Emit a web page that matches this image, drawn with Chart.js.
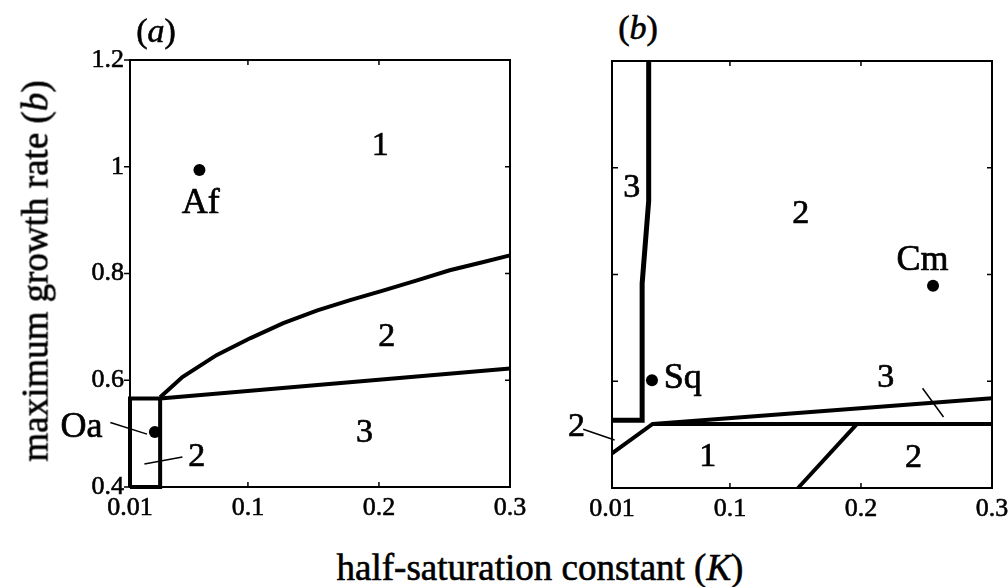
<!DOCTYPE html>
<html>
<head>
<meta charset="utf-8">
<script src="https://cdn.jsdelivr.net/npm/chart.js"></script>
<style>
html, body { margin: 0; padding: 0; background: #fff; }
#wrap { position: relative; width: 1008px; height: 587px; overflow: hidden; font-family: "Liberation Serif", serif; color: #000; }
.box { position: absolute; height: 490px; }
#boxA { left: 30px; top: 50px; width: 500px; }
#boxB { left: 522px; top: 51px; width: 486px; }
.txt { position: absolute; white-space: nowrap; line-height: 1; transform: translate(-50%, -50%); -webkit-text-stroke: 0.6px #000; }
</style>
</head>
<body>
<div id="wrap">
  <div class="box" id="boxA"><canvas id="chartA"></canvas></div>
  <div class="box" id="boxB"><canvas id="chartB"></canvas></div>
  <div class="txt" style="left:35px; top:271px; font-size:37px; transform:translate(-50%,-50%) rotate(-90deg);">maximum growth rate (<i>b</i>)</div>
  <div class="txt" style="left:540px; top:567px; font-size:37px;">half-saturation constant (<i>K</i>)</div>
  <div class="txt" style="left:156px; top:31px; font-size:34px;">(<i>a</i>)</div>
  <div class="txt" style="left:638px; top:28px; font-size:34px;">(<i>b</i>)</div>
</div>
<script>
// axis ticks
const kTicks = [0.01, 0.1, 0.2, 0.3]
const bTicks = [0.4, 0.6, 0.8, 1, 1.2]

// panel (a) boundaries
const aCurveK = [0.033, 0.05, 0.076, 0.102, 0.127, 0.153, 0.178, 0.203, 0.229, 0.254, 0.279, 0.3]
const aCurveB = [0.568, 0.606, 0.647, 0.679, 0.707, 0.731, 0.750, 0.768, 0.787, 0.806, 0.821, 0.834]
const aLineK = [0.033, 0.3]
const aLineB = [0.566, 0.622]
const aBoxK = [0.01, 0.01, 0.033, 0.033, 0.01]
const aBoxB = [0.4, 0.566, 0.566, 0.4, 0.4]
// panel (a) species
const aSpK = [0.063, 0.029]
const aSpB = [0.994, 0.503]
// panel (a) leader lines
const aLeadOaK = [-0.005, 0.023]
const aLeadOaB = [0.521, 0.499]
const aLead2K = [0.021, 0.05]
const aLead2B = [0.443, 0.456]
// panel (a) text
const aText = ['1', '2', '3', '2', 'Af', 'Oa']
const aTextK = [0.201, 0.206, 0.189, 0.061, 0.064, -0.027]
const aTextB = [1.039, 0.680, 0.501, 0.456, 0.931, 0.512]

// panel (b) boundaries
const bVertK = [0.038, 0.038, 0.033, 0.033, 0.01]
const bVertB = [1.2, 0.938, 0.783, 0.527, 0.527]
const bLowK = [0.01, 0.041, 0.3]
const bLowB = [0.465, 0.52, 0.52]
const bUpK = [0.041, 0.3]
const bUpB = [0.52, 0.568]
const bDiagK = [0.152, 0.197]
const bDiagB = [0.4, 0.52]
// panel (b) species
const bSpK = [0.0405, 0.255]
const bSpB = [0.602, 0.779]
// panel (b) leader lines
const bLead2K = [-0.012, 0.012]
const bLead2B = [0.510, 0.490]
const bLead3K = [0.247, 0.263]
const bLead3B = [0.587, 0.533]
// panel (b) text
const bText = ['3', '2', 'Cm', 'Sq', '3', '2', '1', '2']
const bTextK = [0.025, 0.154, 0.247, 0.064, 0.219, -0.017, 0.083, 0.240]
const bTextB = [0.961, 0.914, 0.826, 0.606, 0.606, 0.514, 0.458, 0.456]

const pts = (ks, bs) => ks.map((k, i) => ({ x: k, y: bs[i] }))

function edge(ks, bs, w) {
    return { data: pts(ks, bs), showLine: true, borderColor: '#000', borderWidth: w,
             pointRadius: 0, tension: 0, clip: false, borderJoinStyle: 'miter' }
}
function dots(ks, bs) {
    return { data: pts(ks, bs), showLine: false, pointRadius: 6, pointBackgroundColor: '#000',
             pointBorderWidth: 0, clip: false }
}

// frame, inward ticks and text labels
const framePlugin = {
    id: 'frame',
    afterDraw(chart, args, opts) {
        const ctx = chart.ctx
        const a = chart.chartArea
        const x = chart.scales.x, y = chart.scales.y
        ctx.save()
        ctx.strokeStyle = '#000'
        ctx.lineWidth = 2
        ctx.strokeRect(a.left, a.top, a.right - a.left, a.bottom - a.top)
        ctx.lineWidth = 1.5
        ctx.beginPath()
        kTicks.slice(1, -1).forEach(v => {
            const px = x.getPixelForValue(v)
            ctx.moveTo(px, a.bottom); ctx.lineTo(px, a.bottom - 5)
            ctx.moveTo(px, a.top); ctx.lineTo(px, a.top + 5)
        })
        bTicks.slice(1, -1).forEach(v => {
            const py = y.getPixelForValue(v)
            ctx.moveTo(a.right, py); ctx.lineTo(a.right - 5, py)
            ctx.moveTo(a.left, py); ctx.lineTo(a.left + (opts.leftOut ? -6 : 6), py)
        })
        if (opts.leftOut) {
            [0.4, 1.2].forEach(v => {
                const py = y.getPixelForValue(v)
                ctx.moveTo(a.left, py); ctx.lineTo(a.left - 6, py)
            })
        }
        ctx.stroke()
        ctx.fillStyle = '#000'
        ctx.lineWidth = 0.7
        ctx.textAlign = 'center'
        ctx.textBaseline = 'middle'
        opts.text.forEach((t, i) => {
            const size = /\d/.test(t) ? 34 : 36
            ctx.font = size + 'px "Liberation Serif", serif'
            const px = x.getPixelForValue(opts.tk[i]), py = y.getPixelForValue(opts.tb[i])
            ctx.fillText(t, px, py)
            ctx.strokeText(t, px, py)
        })
        ctx.restore()
    }
}

function makeChart(id, datasets, showY, yWidth, padRight, text, tk, tb) {
    const ctx = document.getElementById(id).getContext('2d')
    const tickFont = { family: '"Liberation Serif", serif', size: 26 }
    return new Chart(ctx, {
        type: 'scatter',
        data: { datasets: datasets },
        plugins: [framePlugin],
        options: {
            responsive: true,
            maintainAspectRatio: false,
            animation: false,
            layout: { padding: { top: 10, right: padRight, left: 0, bottom: 0 } },
            plugins: {
                legend: { display: false },
                tooltip: { enabled: false },
                frame: { leftOut: showY, text: text, tk: tk, tb: tb }
            },
            scales: {
                x: {
                    type: 'linear', min: 0.01, max: 0.3,
                    afterBuildTicks: s => { s.ticks = kTicks.map(v => ({ value: v })) },
                    afterFit: s => { s.height = 53; s.paddingLeft = 0; s.paddingRight = 0 },
                    grid: { display: false, drawTicks: false },
                    border: { display: false },
                    ticks: { autoSkip: false, maxRotation: 0, padding: 6, color: '#000',
                             textStrokeColor: '#000', textStrokeWidth: 0.6,
                             font: tickFont, callback: v => String(v) }
                },
                y: {
                    type: 'linear', min: 0.4, max: 1.2,
                    afterBuildTicks: s => { s.ticks = bTicks.map(v => ({ value: v })) },
                    afterFit: s => { s.width = yWidth; s.paddingTop = 0; s.paddingBottom = 0 },
                    grid: { display: false, drawTicks: false },
                    border: { display: false },
                    ticks: { display: showY, padding: 6, color: '#000',
                             textStrokeColor: '#000', textStrokeWidth: 0.6,
                             font: tickFont, callback: v => String(v) }
                }
            }
        }
    })
}

makeChart('chartA', [
    edge(aCurveK, aCurveB, 4),
    edge(aLineK, aLineB, 4),
    edge(aBoxK, aBoxB, 4),
    edge(aLeadOaK, aLeadOaB, 1.5),
    edge(aLead2K, aLead2B, 1.5),
    dots(aSpK, aSpB)
], true, 100, 20, aText, aTextK, aTextB)

makeChart('chartB', [
    edge(bVertK, bVertB, 5),
    edge(bLowK, bLowB, 4),
    edge(bUpK, bUpB, 4),
    edge(bDiagK, bDiagB, 4),
    edge(bLead2K, bLead2B, 1.5),
    edge(bLead3K, bLead3B, 1.5),
    dots(bSpK, bSpB)
], false, 90, 16, bText, bTextK, bTextB)
</script>
</body>
</html>
